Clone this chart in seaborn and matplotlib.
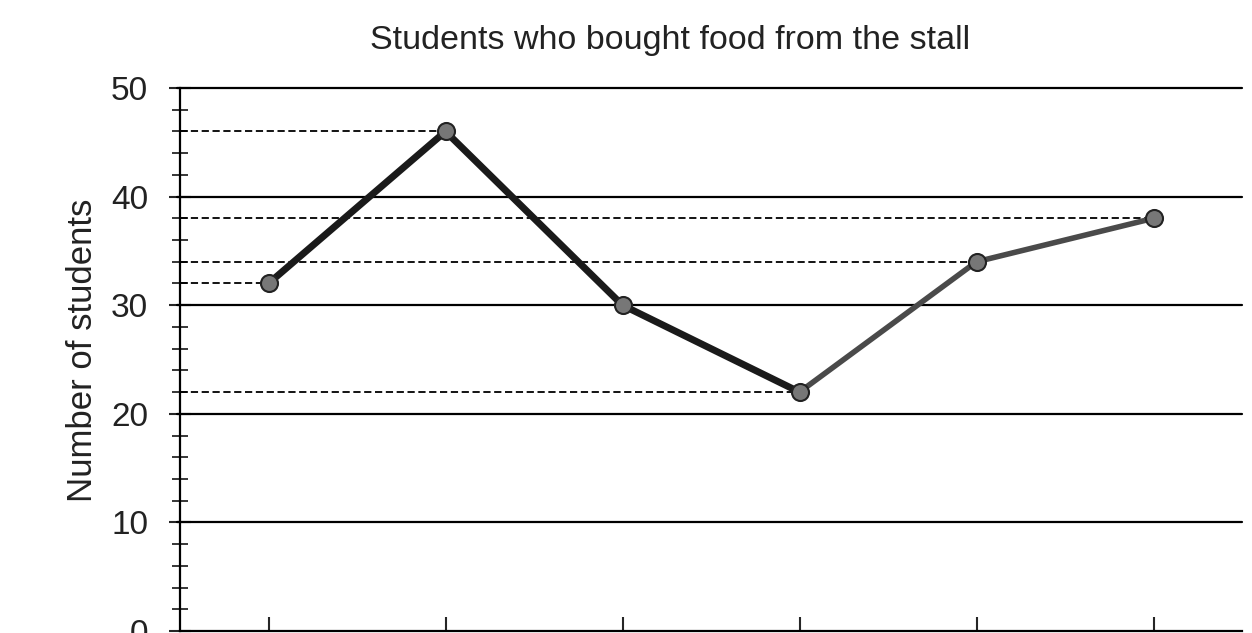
import matplotlib
matplotlib.use("Agg")
import matplotlib.pyplot as plt
import seaborn as sns
import pandas as pd
from matplotlib.ticker import MultipleLocator

# valeurs
positions = [1, 2, 3, 4, 5, 6]
students = [32, 46, 30, 22, 34, 38]
y_ticks = [0, 10, 20, 30, 40, 50]

df = pd.DataFrame({"pos": positions, "students": students})

sns.set_style("white")
plt.rcParams["font.family"] = ["Liberation Sans", "DejaVu Sans"]

fig = plt.figure(figsize=(12.52, 6.33), dpi=100)
ax = fig.add_axes([180 / 1252, 2 / 633, (1242 - 180) / 1252, (631 - 88) / 633])

# lignes de grille pleines
for v in y_ticks[1:]:
    ax.axhline(v, xmin=-0.003, color="black", lw=1.6, clip_on=False, zorder=1)

# lignes pointillées vers chaque point
for x, y in zip(positions, students):
    if y % 10 != 0:
        ax.hlines(y, 0.5, x, colors="black", linestyles=(0, (4, 2)), lw=1.3, zorder=1)

# la courbe
sns.lineplot(data=df.iloc[:4], x="pos", y="students", ax=ax, color="#1a1a1a",
             lw=5, zorder=3)
sns.lineplot(data=df.iloc[3:], x="pos", y="students", ax=ax, color="#4a4a4a",
             lw=4, zorder=3)
sns.scatterplot(data=df, x="pos", y="students", ax=ax, s=150, color="#777777",
                edgecolor="#222222", linewidth=1.5, zorder=4)

ax.set_xlim(0.5, 6.5)
ax.set_ylim(0, 50)
ax.set_yticks(y_ticks)
ax.yaxis.set_minor_locator(MultipleLocator(2))
ax.set_xticks(positions)
ax.set_xticklabels([])
ax.tick_params(axis="y", which="major", direction="inout", length=16, width=1.5,
               labelsize=24, pad=15, left=True, labelcolor="#222222")
ax.tick_params(axis="y", which="minor", direction="inout", length=12, width=1.3,
               left=True)
ax.tick_params(axis="x", direction="in", length=10, width=1.5, bottom=True)

for side in ["top", "right"]:
    ax.spines[side].set_visible(False)
ax.spines["left"].set_linewidth(1.6)
ax.spines["bottom"].set_linewidth(1.6)
ax.spines["left"].set_color("black")
ax.spines["bottom"].set_color("black")

ax.set_xlabel("")
ax.set_ylabel("")
fig.text(83 / 1252, 1 - 350 / 633, "Number of students", rotation=90,
         ha="center", va="center", fontsize=25, color="#222222")
fig.text(0.535, 1 - 49 / 633, "Students who bought food from the stall",
         ha="center", va="baseline", fontsize=24.5, color="#222222")

fig.savefig("out.png", dpi=100)
